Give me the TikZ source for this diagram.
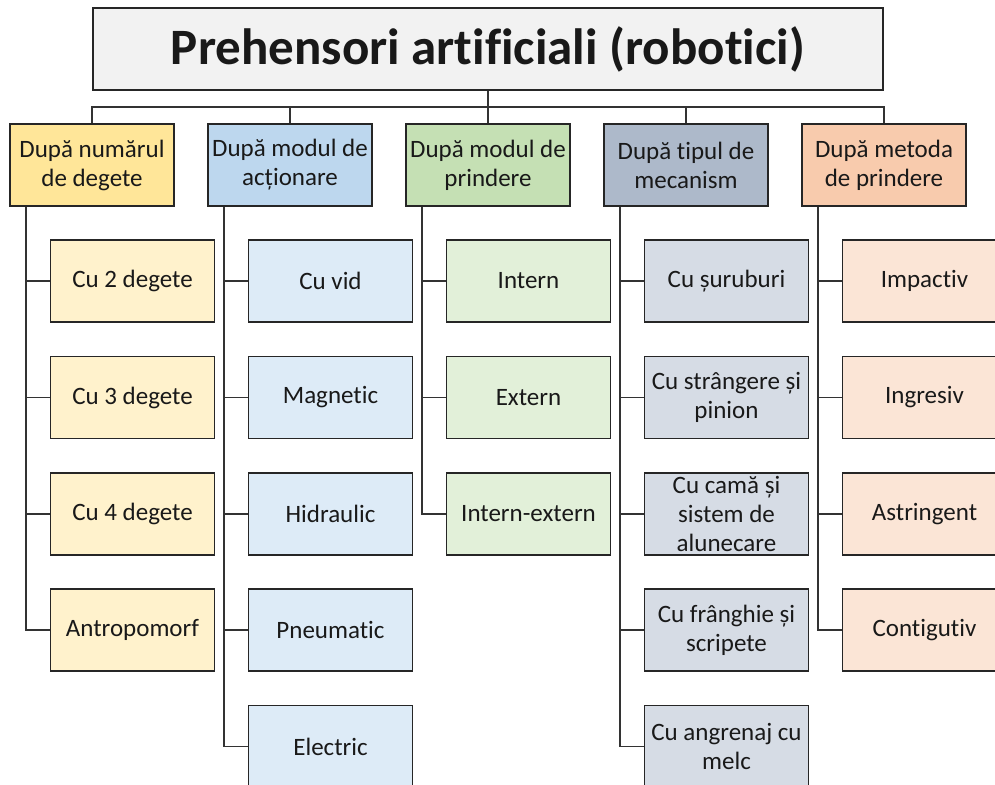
\documentclass[tikz,border=0pt]{standalone}
\usepackage{fontspec}
\setmainfont[RawFeature={-liga;-clig;-calt;-dlig}]{Carlito}
\definecolor{edge}{HTML}{262626}
\definecolor{wire}{HTML}{333333}
\definecolor{titlefill}{HTML}{F2F2F2}
\definecolor{goldA}{HTML}{FFE699}\definecolor{goldB}{HTML}{FFF2CC}
\definecolor{blueA}{HTML}{BDD7EE}\definecolor{blueB}{HTML}{DDEBF7}
\definecolor{greenA}{HTML}{C5E0B4}\definecolor{greenB}{HTML}{E2F0D9}
\definecolor{slateA}{HTML}{ADB9CA}\definecolor{slateB}{HTML}{D6DCE5}
\definecolor{peachA}{HTML}{F8CBAD}\definecolor{peachB}{HTML}{FBE5D6}
\tikzset{
  box/.style={draw=edge, line width=1.6pt, minimum width=164pt, minimum height=82pt,
    inner sep=0pt, align=center, text=black!90,
    font=\fontsize{25}{29}\selectfont},
  titlebox/.style={box, fill=titlefill, minimum width=790pt,
    font=\fontsize{51}{58}\selectfont\bfseries},
  wirestyle/.style={draw=wire, line width=1.5pt},
}
\begin{document}
\begin{tikzpicture}[x=1pt, y=-1pt]
\useasboundingbox (0,0) rectangle (995,784);
\clip (0,0) rectangle (995,784);

% root
\node[titlebox] (root) at (488,49) {Prehensori artificiali (robotici)};

% categories
\node[box, fill=goldA]  (k1) at (92,165)  {După numărul\\de degete};
\node[box, fill=blueA]  (k2) at (290,165) {După modul de\\acționare};
\node[box, fill=greenA] (k3) at (488,165) {După modul de\\prindere};
\node[box, fill=slateA] (k4) at (686,165) {După tipul de\\mecanism};
\node[box, fill=peachA] (k5) at (884,165) {După metoda\\de prindere};

% bus from the root to the categories
\coordinate (bus) at (488,107);
\draw[wirestyle] (root.south) -- (bus);
\foreach \k in {k1,k2,k3,k4,k5}
  \draw[wirestyle] (bus) -| (\k.north);

% children
\node[box, fill=goldB] (c11) at (132.5,281)   {Cu 2 degete};
\node[box, fill=goldB] (c12) at (132.5,397.5) {Cu 3 degete};
\node[box, fill=goldB] (c13) at (132.5,514)   {Cu 4 degete};
\node[box, fill=goldB] (c14) at (132.5,630)   {Antropomorf};

\node[box, fill=blueB] (c21) at (330.5,281)   {Cu vid};
\node[box, fill=blueB] (c22) at (330.5,397.5) {Magnetic};
\node[box, fill=blueB] (c23) at (330.5,514)   {Hidraulic};
\node[box, fill=blueB] (c24) at (330.5,630)   {Pneumatic};
\node[box, fill=blueB] (c25) at (330.5,746.5) {Electric};

\node[box, fill=greenB] (c31) at (528.5,281)   {Intern};
\node[box, fill=greenB] (c32) at (528.5,397.5) {Extern};
\node[box, fill=greenB] (c33) at (528.5,514)   {Intern-extern};

\node[box, fill=slateB] (c41) at (726.5,281)   {Cu șuruburi};
\node[box, fill=slateB] (c42) at (726.5,397.5) {Cu strângere și\\pinion};
\node[box, fill=slateB] (c43) at (726.5,514)   {Cu camă și\\sistem de\\alunecare};
\node[box, fill=slateB] (c44) at (726.5,630)   {Cu frânghie și\\scripete};
\node[box, fill=slateB] (c45) at (726.5,746.5) {Cu angrenaj cu\\melc};

\node[box, fill=peachB] (c51) at (924.5,281)   {Impactiv};
\node[box, fill=peachB] (c52) at (924.5,397.5) {Ingresiv};
\node[box, fill=peachB] (c53) at (924.5,514)   {Astringent};
\node[box, fill=peachB] (c54) at (924.5,630)   {Contigutiv};

% trunks and branches
\foreach \k/\list in {k1/{c11,c12,c13,c14},
                      k2/{c21,c22,c23,c24,c25},
                      k3/{c31,c32,c33},
                      k4/{c41,c42,c43,c44,c45},
                      k5/{c51,c52,c53,c54}}
  \foreach \c in \list
    \draw[wirestyle] ([xshift=-66pt]\k.south) |- (\c.west);
\end{tikzpicture}
\end{document}
